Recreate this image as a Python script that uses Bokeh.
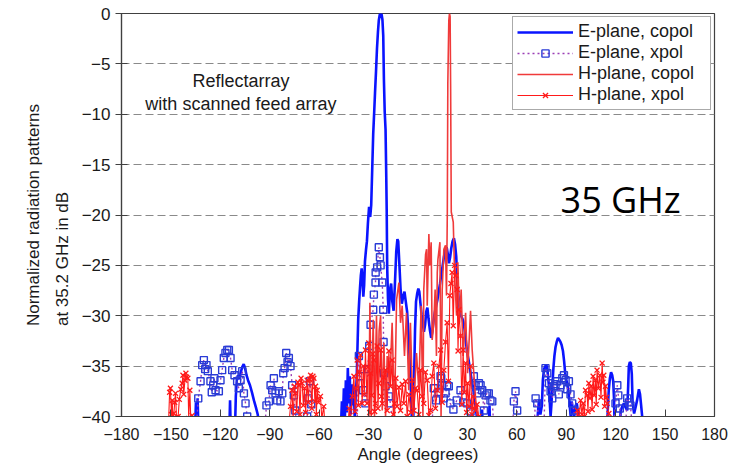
import numpy as np
from bokeh.plotting import figure
from bokeh.models import Range1d, FixedTicker, Legend, LegendItem, Label, Title, ColumnDataSource
from bokeh.embed import file_html
from bokeh.resources import INLINE

nan = float("nan")

x_ticks = [-180, -150, -120, -90, -60, -30, 0, 30, 60, 90, 120, 150, 180]
y_ticks = [-40, -35, -30, -25, -20, -15, -10, -5, 0]
y_label_lines = ["Normalized radiation patterns", "at 35.2 GHz in dB"]

# E-plane copol
e_co_angle = [-135.5, -134.8, -134.3, -133.8, -133.2, nan,
              -114.6, -114.1, -113.6, -111.2, -110.6, -110.0, -109.3, -108.5, -107.6, -106.7, -105.8, -105.0,
              -104.1, -103.2, -102.0, -100.8, -99.6, -98.4, -97.3, -96.3, nan,
              -47.0, -46.2, -45.6, -45.0, -44.4, -43.8, -43.2, -42.6, -42.0, -41.4, -40.8, -40.2, -39.6, -39.0,
              -38.4, -37.8, -37.2, -36.8, -36.3, -35.7, -35.2, -34.7, -34.2, -33.7, -33.2, -32.7, -32.2, -31.6,
              -31.0, -30.4, -29.7, -29.0, -28.4, -27.8, -27.2, -26.6, -26.1, -25.5, -24.9, -24.3, -23.8, -23.2,
              -22.7, -22.1, -21.6, -21.1, -20.7, -20.2, -19.7, -19.3, -19.0, -18.7, -18.2, -17.7, -17.0, -16.3,
              -15.6, -14.8, -14.0, -13.2, -12.5, -12.0, -11.3, -10.6, -9.8, -9.0, -8.2, -7.5, -6.6, -5.8, -5.0,
              -4.3, -3.6, -2.9, -2.4, -1.8, -1.2, -0.5, 0.2, 0.8, 1.5, 2.2, 2.9, 3.6, 4.3, 5.0, 5.7, 6.4, 7.2,
              8.0, 8.7, 9.5, 10.3, 11.0, 11.8, 12.6, 13.4, 14.2, 15.0, 15.8, 16.6, 17.4, 18.2, 18.8, 19.5, 20.2,
              21.0, 21.8, 22.5, 23.2, 23.8, 24.5, 25.3, 26.1, 27.0, 27.9, 28.8, 29.7, 30.6, 31.5, 32.4, 33.3,
              34.2, 35.1, 36.0, 36.6, 38.2, 38.9, 39.5, 42.8, 43.4, 44.0, nan,
              72.0, 72.8, 73.5, 74.3, 75.2, 75.8, 76.5, 77.3, 78.0, 78.7, 79.4, 80.0, 80.5, 81.0, 81.6, 82.2,
              82.8, 83.5, 84.2, 85.0, 85.8, 86.5, 87.2, 88.0, 88.7, 89.3, 90.0, 90.7, 91.4, 92.1, 92.7, 93.3,
              94.0, 94.7, 95.5, 96.4, 97.2, 97.8, nan,
              114.6, 115.2, 115.8, 116.5, 117.2, 117.9, 118.5, 119.0, 119.5, 122.5, 123.0, 124.0, 125.0, 126.0,
              127.0, 127.6, 128.0, 128.6, 129.2, 129.8, 130.3, 131.2, 132.2, 133.1, 134.1, 134.8, 135.4, 136.1, 136.6]
e_co_db = [-42, -38.6, -41, -38.2, -42, nan,
           -42, -38.4, -42, -42, -38.0, -36.4, -35.9, -36.3, -35.6, -35.1, -34.8, -35.2,
           -35.9, -36.4, -36.9, -37.6, -38.4, -39.1, -39.8, -41, nan,
           -42, -38.5, -40.5, -37.2, -40.2, -36.4, -39.6, -35.2, -38.7, -36.0, -39.8, -36.8, -38.9, -37.0,
           -40.3, -37.8, -36.2, -33.5, -30.4, -28.5, -27.2, -26.0, -25.3, -26.4, -28.1, -27.0, -24.6, -23.5,
           -22.6, -20.8, -19.2, -20.2, -19.0, -15.5, -12.0, -9.8, -7.9, -5.8, -3.5, -1.8, -0.7, -0.1,
           0.0, -0.1, -0.6, -2.2, -6.5, -9.8, -11.5, -15.8, -19.5, -25.2, -28.4, -29.8, -27.4, -26.8,
           -28.6, -29.5, -26.8, -23.6, -22.4, -22.6, -24.9, -27.3, -28.8, -28.1, -27.6, -28.5, -29.6, -31.8, -34.6,
           -37.4, -41, -40.5, -36.5, -31.4, -28.6, -27.8, -27.3, -27.6, -28.8, -29.9, -30.8, -31.6, -30.9, -29.6, -29.2, -30.3, -31.4,
           -32.2, -31.6, -30.4, -29.6, -29.0, -28.4, -27.6, -26.8, -25.8, -25.0, -24.1, -23.5, -23.2, -24.0, -24.8, -24.2, -23.3,
           -22.6, -22.3, -22.9, -24.1, -26.2, -28.0, -29.4, -30.0, -30.3, -30.9, -32.1, -33.5, -34.3, -35.2, -36.2, -37.0,
           -38.1, -39.2, -40.4, -42, -42, -39.3, -42, -42, -38.9, -42, nan,
           -42, -39.6, -38.3, -39.8, -38.9, -36.4, -35.3, -35.0, -34.9, -35.6, -36.8, -38.6, -40.0, -38.8, -36.9, -35.2,
           -34.0, -33.1, -32.6, -32.2, -32.4, -32.6, -32.9, -33.5, -34.5, -35.6, -36.3, -36.9, -37.6, -38.9, -40.0, -38.5,
           -39.2, -40.2, -39.0, -38.7, -39.6, -42, nan,
           -42, -39.4, -37.4, -36.2, -35.6, -35.9, -36.5, -38.2, -42, -42, -39.5, -39.0, -38.7, -39.1,
           -39.4, -37.0, -35.0, -34.6, -34.7, -35.8, -38.7, -39.7, -39.0, -38.3, -37.3, -37.8, -38.8, -40.0, -42]

# E-plane xpol
e_x_angle = [-134.5, -133.4, -132.0, -131.0, -130.0, -129.2, -128.4, -127.6, -126.0, -125.2, -124.3, -123.6,
             -122.9, -120.9, -119.9, -118.9, -117.9, -116.9, -115.8, -114.8, -113.8, -112.8, -111.4, -109.8,
             -108.8, -107.7, -106.7, -105.7, -104.7, -103.7, -103.0, nan,
             -93.0, -92.0, -90.5, -89.5, -88.5, -87.5, -86.5, -85.5, -84.5, -83.5, -82.4, -81.8, -81.0, -80.0,
             -79.2, -78.4, -77.4, -76.4, -75.4, -74.5, -73.5, nan,
             -68.0, -67.3, -66.5, -65.6, -64.8, -64.0, nan,
             -37.0, -35.9, -34.9, -33.3, -31.9, -30.4, -29.6, -28.8, -27.2, -26.8, -25.8, -25.7, -24.8, -23.8,
             -23.1, -22.7, -21.7, -21.1, -20.9, -20.7, -19.7, -17.7, -16.7, -15.5, nan,
             8.5, 9.6, 11.0, 12.5, 13.7, 14.1, 14.7, 15.6, 16.7, 17.7, 18.7, 19.6, 21.5, 23.5, 25.8, 27.5, 29.9,
             31.9, 33.9, 34.9, 36.0, 37.0, 38.0, 39.0, 40.0, 41.0, 42.0, 43.0, 44.0, 45.1, 46.0, nan,
             57.5, 58.2, 59.2, 60.2, 61.0, nan,
             70.5, 71.4, 72.4, 73.5, nan,
             76.5, 77.4, 78.5, 79.5, 80.5, 81.5, 82.5, 83.5, 84.5, 85.5, 86.5, 87.6, 88.6, 89.6, 90.6, 91.6,
             92.6, 93.6, 94.6, 95.5, nan,
             118.8, 119.9, 121.0, 121.6, 122.5, 124.0, nan,
             126.0, 127.0, 128.0, 129.0, 130.0]
e_x_db = [-41, -38.2, -36.5, -34.9, -34.4, -35.3, -34.9, -35.5, -36.5, -37.6, -36.9, -36.2,
          -37.4, -37.5, -36.4, -35.4, -34.2, -33.7, -33.4, -33.4, -34.2, -35.4, -35.9, -36.5,
          -37.2, -36.4, -35.5, -37.7, -38.7, -40.0, -41, nan,
          -41, -38.9, -38.5, -36.9, -37.4, -36.2, -37.7, -38.4, -37.5, -38.5, -37.7, -35.7, -35.2, -33.7,
          -34.6, -34.2, -35.0, -36.9, -37.9, -39.4, -41, nan,
          -41, -40.0, -38.2, -36.5, -38.8, -41, nan,
          -41, -34.0, -36.0, -37.4, -38.7, -35.3, -33.0, -30.9, -29.4, -27.9, -26.7, -25.7, -25.2, -23.2,
          -24.2, -25.0, -26.7, -29.4, -32.6, -35.7, -37.0, -38.0, -38.7, -41, nan,
          -41, -37.2, -38.4, -37.6, -36.0, -36.2, -36.9, -38.2, -37.7, -36.9, -37.0, -38.7, -39.3, -38.4, -37.4, -38.6, -38.7,
          -39.5, -36.0, -36.9, -37.7, -36.7, -36.9, -37.4, -39.4, -37.9, -37.7, -37.7, -38.4, -38.5, -41, nan,
          -41, -38.5, -37.5, -39.4, -41, nan,
          -41, -38.2, -38.7, -41, nan,
          -41, -35.2, -35.7, -36.7, -37.5, -38.2, -37.0, -36.8, -36.5, -37.8, -36.9, -36.2, -35.9, -36.4, -37.3, -36.5,
          -37.8, -38.7, -39.4, -41, nan,
          -41, -38.7, -36.9, -37.9, -39.2, -41, nan,
          -41, -38.2, -38.6, -38.9, -41]

# H-plane copol
h_co_angle = [-30.5, -29.8, -29.2, -28.4, -27.2, -26.4, -25.2, -24.4, -23.6, -22.7, -21.7, -20.7, -19.7,
              -18.7, -17.1, -15.7, -14.3, -13.0, -11.6, -10.6, -9.6, -8.2, -7.0, -5.6, -4.6, -3.0, -0.9, 0.5,
              1.9, 3.0, 3.5, 4.6, 5.2, 5.6, 6.6, 7.2, 8.0, 8.6, 9.6, 10.4, 11.2, 11.7, 12.1, 13.3, 14.0, 14.7,
              15.7, 16.7, 17.3, 17.8, 18.1, 18.7, 19.1, 19.5, 19.8, 20.2, 21.4, 22.2, 23.4, 24.2, 25.2, 26.2,
              27.4, 28.9, 30.1, 31.9, 32.9, 34.3, 35.5, 36.9, 37.5]
h_co_db = [-42, -40, -28.7, -40, -30.4, -40, -30.0, -37.4, -31.5, -30.0, -39.4, -32.7, -40,
           -34.0, -36.7, -30.7, -40, -28.4, -26.7, -30.7, -29.0, -34.0, -29.7, -37.4, -30.7, -40, -33.7, -37.4,
           -29.0, -40, -27.4, -23.9, -23.4, -29.0, -21.9, -25.0, -22.7, -32.4, -30.7, -27.4, -34.0, -25.7, -24.4, -22.7, -40, -27.4,
           -23.4, -23.0, -28.0, -19.7, -7.0, -0.7, 0.0, -0.3, -7.0, -19.7, -20.7, -25.7, -30.0, -24.7, -30.7, -27.4,
           -34.0, -29.7, -35.7, -29.5, -33.4, -36.7, -39.4, -40.5, -42]

# H-plane xpol
h_x_angle = [-151.5, -150.8, -150.3, -149.7, -149.2, -148.7, -148.2, -147.7, -147.2, -146.4, -145.6, -144.9,
             -144.0, -143.2, -142.7, -142.2, -141.5, -140.9, -140.5, -139.7, -139.2, -138.5, -137.8, -137.1,
             -136.5, nan,
             -78.5, -77.4, -76.5, -75.8, -75.0, -74.4, -73.6, -72.9, -72.3, -71.6, -71.0, -70.3, -69.6, -68.9,
             -68.2, -67.3, -66.6, -65.9, -65.2, -64.5, -63.8, -63.2, -62.6, -62.2, -61.7, -61.2, -60.4, -59.2,
             -58.4, -57.2, -56.5, nan,
             -42.5, -41.8, -41.0, -39.9, -38.9, -38.2, -37.5, -36.9, -36.2, -35.5, -34.9, -33.9, -33.2, -32.6,
             -31.9, -30.9, -30.4, -29.9, -29.3, -28.8, -28.1, -27.5, -26.8, -26.3, -25.8, -24.8, -24.3, -23.8,
             -22.7, -22.2, -21.7, -20.8, -19.7, -18.7, -17.7, -16.7, -15.7, -15.0, -14.3, -13.4, -12.7, -11.6,
             -10.6, -9.6, -8.6, -7.5, -6.6, -5.5, -4.4, -3.5, -2.5, -1.5, -0.5, 0.5, 1.5, 2.5, 3.5, 4.5, 5.6,
             6.6, 7.6, 8.6, 9.6, 10.6, 11.7, 12.7, 13.7, 14.7, 15.7, 16.7, 17.7, 18.5, 19.3, 20.0, 20.7, 21.4,
             22.2, 23.0, 23.8, 24.3, 24.8, 25.8, 26.6, 27.4, 28.1, 28.9, 29.5, 30.1, 31.0, 31.9, 32.7, 33.5,
             34.2, 34.9, 35.9, 36.9, 37.6, nan,
             96.0, 96.7, 97.7, 98.7, 99.5, 100.3, 101.0, 101.7, 102.7, 103.2, 103.7, 104.4, 105.1, 105.7, 106.3,
             107.0, 107.7, 108.2, 108.7, 109.5, 110.4, 111.1, 111.8, 112.3, 112.8, 113.3, 113.8, 114.4, 114.9,
             115.9, 116.5]
h_x_db = [-41, -37.6, -37.2, -39.8, -38.4, -41, -39.7, -38.6, -37.7, -41, -40.0, -38.3,
          -37.3, -36.7, -35.9, -37.8, -36.4, -35.7, -36.1, -36.2, -40.2, -37.4, -41, -39.9,
          -41, nan,
          -41, -39.0, -37.4, -40.2, -37.0, -37.7, -39.5, -36.6, -36.9, -39.8, -36.2, -36.7, -38.9, -37.2,
          -39.6, -36.4, -38.6, -36.3, -35.9, -39.2, -36.0, -36.2, -38.5, -37.0, -39.8, -37.4, -38.6, -38.0,
          -40.2, -39.0, -41, nan,
          -41, -39.2, -40.5, -38.0, -36.0, -39.5, -37.2, -34.4, -38.9, -35.6, -33.9, -38.7, -35.0, -37.8,
          -33.4, -38.7, -35.1, -32.7, -39.6, -35.7, -37.9, -33.8, -34.4, -39.5, -38.7, -33.0, -39.2, -36.7,
          -33.4, -38.0, -38.7, -36.1, -35.4, -39.4, -33.5, -37.0, -34.4, -39.8, -38.7, -36.2, -39.0, -37.1,
          -39.4, -36.8, -38.7, -36.5, -40.0, -37.8, -39.6, -36.4, -39.4, -37.2, -37.4, -39.8, -35.4, -38.0, -38.7, -35.6, -36.4,
          -39.9, -39.4, -36.0, -34.7, -39.2, -37.4, -35.0, -33.4, -38.6, -35.4, -32.6, -30.7, -36.5, -28.0, -26.8, -25.7, -31.0,
          -25.0, -26.0, -27.4, -33.5, -29.4, -32.0, -38.8, -33.4, -37.6, -34.7, -39.6, -36.7, -39.0, -35.0, -39.8, -38.0,
          -39.2, -39.4, -38.8, -40.0, -41, nan,
          -41, -39.4, -40.3, -38.4, -39.8, -38.7, -40.0, -37.4, -37.9, -39.5, -36.7, -38.2, -37.0, -39.3, -36.0,
          -37.9, -36.4, -38.8, -35.4, -37.2, -35.9, -38.1, -34.7, -36.6, -35.9, -39.0, -37.0, -38.1, -38.7,
          -39.7, -41]

FONT = "Liberation Sans"

p = figure(width=736, height=466, x_range=Range1d(-180, 180), y_range=Range1d(-40, 0),
           output_backend="svg", toolbar_location=None,
           min_border_left=121, min_border_right=22, min_border_top=13, min_border_bottom=50)

p.background_fill_color = "white"
p.border_fill_color = "white"
p.outline_line_color = "#404040"
p.outline_line_width = 1.2

p.xgrid.visible = False
p.ygrid.grid_line_color = "#8a8a8a"
p.ygrid.grid_line_dash = "8 4"
p.ygrid.grid_line_width = 1

p.xaxis.ticker = FixedTicker(ticks=x_ticks)
p.yaxis.ticker = FixedTicker(ticks=y_ticks)
for ax in (p.xaxis[0], p.yaxis[0]):
    ax.axis_line_color = "#404040"
    ax.axis_line_width = 1.2
    ax.major_tick_line_color = "#404040"
    ax.minor_tick_line_color = None
    ax.major_label_text_font = FONT
    ax.major_label_text_font_size = "17px"
    ax.major_label_text_color = "#1a1a1a"
    ax.axis_label_text_font = FONT
    ax.axis_label_text_font_style = "normal"
    ax.axis_label_text_color = "#1a1a1a"

p.xaxis.major_tick_in = 7
p.xaxis.major_tick_out = 0
p.xaxis.major_label_standoff = 11
p.xaxis.major_label_text_font_size = "16px"
p.xaxis.axis_label = "Angle (degrees)"
p.xaxis.axis_label_text_font_size = "17px"
p.xaxis.axis_label_standoff = 2

p.yaxis.major_tick_in = 6
p.yaxis.major_tick_out = 6
p.yaxis.major_label_standoff = 5

# y-axis title: a two-line title in the left panel, shifted down along the axis
y_title = Title(text="\n".join(y_label_lines), align="center", offset=-26, standoff=12,
                text_font=FONT, text_font_size="17px", text_font_style="normal",
                text_color="#1a1a1a", text_line_height=1.55)
p.add_layout(y_title, "left")

src_eco = ColumnDataSource(dict(x=np.array(e_co_angle, dtype=float), y=np.array(e_co_db, dtype=float)))
src_ex = ColumnDataSource(dict(x=np.array(e_x_angle, dtype=float), y=np.array(e_x_db, dtype=float)))
src_hco = ColumnDataSource(dict(x=np.array(h_co_angle, dtype=float), y=np.array(h_co_db, dtype=float)))
src_hx = ColumnDataSource(dict(x=np.array(h_x_angle, dtype=float), y=np.array(h_x_db, dtype=float)))

r_eco = p.line("x", "y", source=src_eco, line_color="#0a14ff", line_width=2.6)
r_ex_line = p.line("x", "y", source=src_ex, line_color="#9b3fb5", line_width=1.4, line_dash="2 3")
r_ex_mark = p.scatter("x", "y", source=src_ex, marker="square", size=7, line_color="#2a3bd6",
                      line_width=1.4, fill_color=None)
r_hco = p.line("x", "y", source=src_hco, line_color="#f03a3a", line_width=1.6)
r_hx_line = p.line("x", "y", source=src_hx, line_color="#ff1a1a", line_width=1.1)
r_hx_mark = p.scatter("x", "y", source=src_hx, marker="x", size=7, line_color="#ff1a1a", line_width=1.3)

legend = Legend(items=[
    LegendItem(label="E-plane, copol", renderers=[r_eco]),
    LegendItem(label="E-plane, xpol", renderers=[r_ex_line, r_ex_mark]),
    LegendItem(label="H-plane, copol", renderers=[r_hco]),
    LegendItem(label="H-plane, xpol", renderers=[r_hx_line, r_hx_mark]),
], location="top_right")
legend.margin = 3
legend.padding = 4
legend.spacing = 0
legend.glyph_width = 56
legend.glyph_height = 18
legend.label_height = 18
legend.label_width = 128
legend.label_standoff = 5
legend.label_text_font = FONT
legend.label_text_font_size = "18px"
legend.label_text_color = "#1a1a1a"
legend.border_line_color = "#555555"
legend.border_line_width = 1.2
legend.background_fill_alpha = 1
p.add_layout(legend)

for txt, yy in (("Reflectarray", -6.7), ("with scanned feed array", -9.0)):
    p.add_layout(Label(x=-107.5, y=yy, text=txt, text_align="center", text_baseline="middle",
                       text_font=FONT, text_font_size="18px", text_color="#1a1a1a"))

p.add_layout(Label(x=123, y=-18.5, text="35 GHz", text_align="center", text_baseline="alphabetic",
                   text_font="Open Sans", text_font_size="36px", text_color="black"))

open("out.html", "w").write(file_html(p, INLINE))
